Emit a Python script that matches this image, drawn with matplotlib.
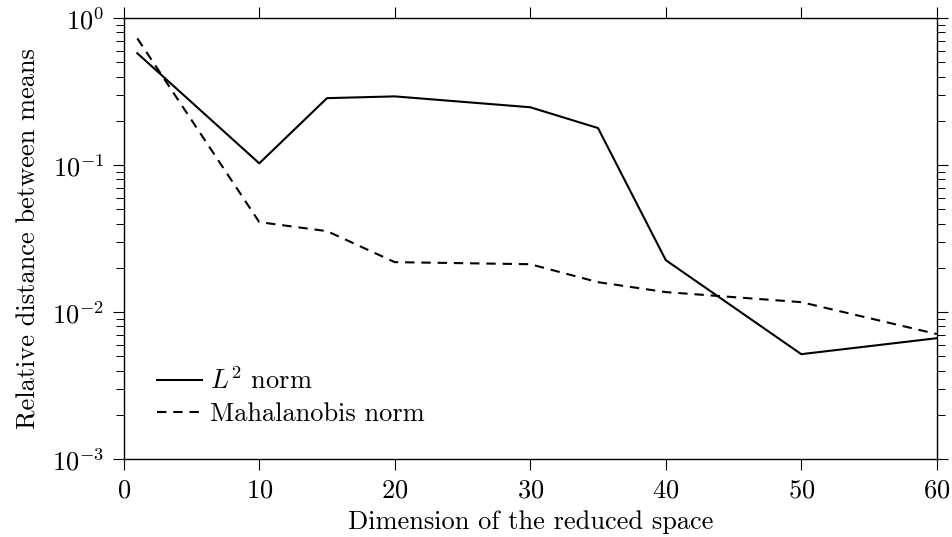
import matplotlib
matplotlib.use("Agg")
import matplotlib.pyplot as plt
from matplotlib.ticker import LogLocator, NullFormatter, MultipleLocator

plt.rcParams["font.family"] = "cmr10"
plt.rcParams["mathtext.fontset"] = "cm"
plt.rcParams["axes.formatter.use_mathtext"] = True

# reduced-space dimension
dims = [1, 10, 15, 20, 30, 35, 40, 50, 60]
l2_norm = [0.578, 0.103, 0.286, 0.294, 0.248, 0.179, 0.0226, 0.00518, 0.00665]
mahal_norm = [0.73, 0.041, 0.0356, 0.0219, 0.0212, 0.016, 0.0137, 0.0117, 0.0071]

FS = 19

fig = plt.figure(figsize=(9.52, 5.37), dpi=100)
ax = fig.add_axes([0.130, 0.145, 0.854, 0.821])

ax.plot(dims, l2_norm, color="black", lw=1.5, label=r"$L^2$ norm")
ax.plot(dims, mahal_norm, color="black", lw=1.5, dashes=(4.5, 3.3), label="Mahalanobis norm")

ax.set_yscale("log")
ax.set_xlim(0, 60)
ax.set_ylim(1e-3, 1)
ax.xaxis.set_major_locator(MultipleLocator(10))
ax.yaxis.set_major_locator(LogLocator(base=10, numticks=10))
ax.yaxis.set_minor_locator(LogLocator(base=10, subs=range(2, 10), numticks=10))
ax.yaxis.set_minor_formatter(NullFormatter())

for s in ax.spines.values():
    s.set_linewidth(1.0)
ax.tick_params(which="both", direction="out", top=True, right=True,
               labelsize=FS, pad=6)
ax.tick_params(which="major", length=8, width=0.8)
ax.tick_params(which="minor", length=6, width=0.7)

ax.set_xlabel("Dimension of the reduced space", fontsize=FS, labelpad=6)
ax.set_ylabel("Relative distance between means", fontsize=FS, labelpad=8)

ax.legend(loc="lower left", bbox_to_anchor=(0.041, 0.075), frameon=False,
          fontsize=FS, handlelength=1.7, handletextpad=0.3, labelspacing=0.3,
          borderpad=0, borderaxespad=0)

fig.savefig("out.png", dpi=100)
